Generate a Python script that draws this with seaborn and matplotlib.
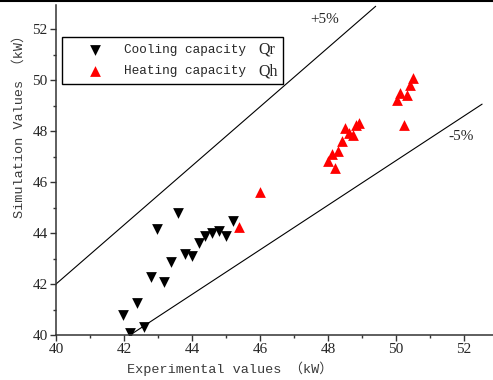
import numpy as np
import pandas as pd
import seaborn as sns
import matplotlib.pyplot as plt
from matplotlib.lines import Line2D
from matplotlib.ticker import MultipleLocator

# cooling capacity Qr (experimental, simulated)
cool_exp = [41.98, 42.18, 42.37, 42.59, 42.78, 42.98, 43.18, 43.38, 43.59,
            43.78, 43.99, 44.20, 44.39, 44.59, 44.78, 45.00, 45.20]
cool_sim = [40.78, 40.09, 41.27, 40.33, 42.29, 44.16, 42.09, 42.87, 44.77,
            43.18, 43.10, 43.60, 43.88, 43.99, 44.09, 43.88, 44.48]

# heating capacity Qh
heat_exp = [45.39, 46.00, 48.01, 48.21, 48.11, 48.30, 48.42, 48.50, 48.62,
            48.72, 48.82, 48.92, 50.02, 50.12, 50.22, 50.33, 50.41, 50.51]
heat_sim = [44.25, 45.62, 46.84, 46.54, 47.12, 47.23, 47.61, 48.13, 47.91,
            47.84, 48.24, 48.30, 49.22, 49.50, 48.24, 49.41, 49.80, 50.10]

# +5% / -5% guide lines (end points)
plus_x = [40.0, 49.4]
plus_y = [42.0, 52.9]
minus_x = [42.18, 52.53]
minus_y = [40.0, 49.06]

LABEL_FONT = ['Liberation Mono', 'Noto Sans CJK SC']
NUM_FONT = 'Liberation Serif'


def main() -> None:
    sns.set_style("ticks")
    plt.rcParams['font.family'] = NUM_FONT

    fig = plt.figure(figsize=(4.93, 3.80), dpi=100)
    ax = fig.add_axes([56 / 493, 45 / 380, 437 / 493, 330 / 380])

    cool = pd.DataFrame({"x": cool_exp, "y": cool_sim})
    heat = pd.DataFrame({"x": heat_exp, "y": heat_sim})

    sns.lineplot(x=plus_x, y=plus_y, color="black", lw=0.8, ax=ax, legend=False)
    sns.lineplot(x=minus_x, y=minus_y, color="black", lw=0.8, ax=ax, legend=False)

    sns.scatterplot(data=cool, x="x", y="y", marker="v", s=60, color="black",
                    linewidth=0, ax=ax, label="Cooling capacity")
    sns.scatterplot(data=heat, x="x", y="y", marker="^", s=60, color="red",
                    linewidth=0, ax=ax, label="Heating capacity")

    ax.set_xlim(40, 52.85)
    ax.set_ylim(40, 52.95)
    ax.xaxis.set_major_locator(MultipleLocator(2))
    ax.xaxis.set_minor_locator(MultipleLocator(1))
    ax.yaxis.set_major_locator(MultipleLocator(2))
    ax.yaxis.set_minor_locator(MultipleLocator(1))
    ax.tick_params(which="major", direction="out", length=4, width=1,
                   color="#333333", labelsize=11, pad=2)
    ax.tick_params(which="minor", direction="out", length=2.5, width=1,
                   color="#333333")
    sns.despine(ax=ax)
    for side in ("left", "bottom"):
        ax.spines[side].set_color("#333333")
        ax.spines[side].set_linewidth(1.1)

    ax.set_xlabel("Experimental values （kW）", family=LABEL_FONT,
                  fontsize=9.7, color="#3a3a3a")
    ax.xaxis.set_label_coords(0.397, -0.103)
    ax.xaxis.label.set_verticalalignment("center")
    ax.set_ylabel("Simulation Values （kW）", family=LABEL_FONT,
                  fontsize=9.7, color="#3a3a3a")
    ax.yaxis.set_label_coords(-0.085, 0.641)
    ax.yaxis.label.set_verticalalignment("center")

    leg = ax.legend(loc="upper left",
                    bbox_to_anchor=(6 / 437, (335 - 82) / 330, 221 / 437, 45 / 330),
                    mode="expand", frameon=True, fancybox=False,
                    edgecolor="black",
                    prop={"family": LABEL_FONT, "size": 9.2},
                    handletextpad=0.3, borderpad=0.55, labelspacing=0.72,
                    handlelength=4.0, borderaxespad=0)
    leg.get_frame().set_linewidth(1.0)
    leg.get_frame().set_alpha(1)

    ax.text(0.462, 0.864, "Qr", transform=ax.transAxes, fontsize=11.5,
            va="center", ha="left", zorder=10)
    ax.text(0.462, 0.800, "Qh", transform=ax.transAxes, fontsize=11.5,
            va="center", ha="left", zorder=10)

    ax.text(47.9, 52.4, "+5%", fontsize=11, ha="center", va="center")
    ax.text(51.9, 47.8, "-5%", fontsize=11, ha="center", va="center")

    fig.add_artist(Line2D([0, 1], [0.998, 0.998], color="black", lw=1.5,
                          transform=fig.transFigure))

    fig.savefig("out.png", dpi=100)


if __name__ == '__main__':
    main()
